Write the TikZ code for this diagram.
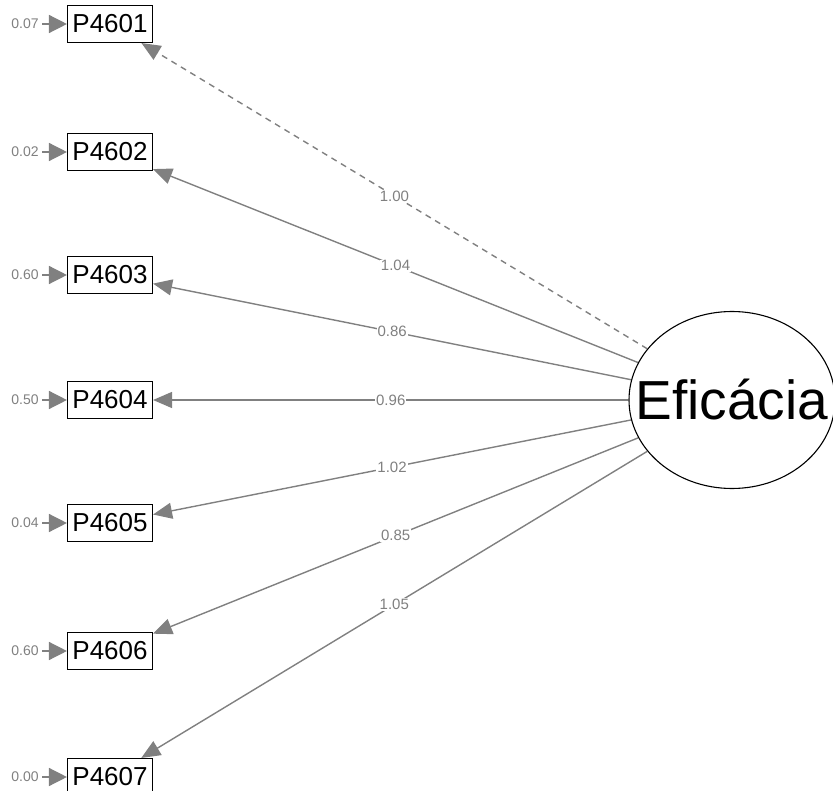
\documentclass[tikz,border=0pt]{standalone}
\usepackage{fontspec}
\setmainfont{Liberation Sans}
\usetikzlibrary{arrows.meta,shapes.geometric,backgrounds}
\definecolor{edgegrey}{RGB}{128,128,128}
\tikzset{
  manifest/.style={draw=black, line width=1.1pt, fill=white, minimum width=85pt,
    minimum height=37pt, inner sep=0pt, font=\fontsize{26}{30}\selectfont},
  latent/.style={ellipse, draw=black, line width=1.1pt, fill=white, minimum width=206pt,
    minimum height=177pt, inner sep=0pt, font=\fontsize{55}{60}\selectfont},
  loading/.style={draw=edgegrey, line width=1.4pt, -{Triangle[length=19pt,width=16pt]}},
  fixedload/.style={loading, dash pattern=on 6pt off 5pt},
  coef/.style={fill=white, text=edgegrey, inner sep=1pt, font=\fontsize{15}{17}\selectfont},
  resid/.style={draw=edgegrey, line width=1.4pt, -{Triangle[length=18pt,width=18pt]}},
  residtext/.style={text=edgegrey, inner sep=0pt, font=\fontsize{14}{16}\selectfont}
}
\begin{document}
\begin{tikzpicture}[x=1pt,y=-1pt]
\useasboundingbox (0,0) rectangle (833,791);

% latent factor
\node[latent] (eff) at (732,400) {\makebox[0pt][c]{Efic\'acia}};

% indicators
\node[manifest] (p1) at (110,24) {P4601};
\node[manifest] (p2) at (110,152) {P4602};
\node[manifest] (p3) at (110,275) {P4603};
\node[manifest] (p4) at (110,400) {P4604};
\node[manifest] (p5) at (110,523) {P4605};
\node[manifest] (p6) at (110,651) {P4606};
\node[manifest] (p7) at (110,777) {P4607};

% residual variances
\foreach \i/\y/\v in {1/24/0.07, 2/152/0.02, 3/275/0.60, 4/400/0.50,
                      5/523/0.04, 6/651/0.60, 7/777/0.00} {
  \coordinate (r\i) at (42,\y);
  \node[residtext] (rv\i) at (25,\y) {\v};
}

\begin{scope}[on background layer]
  \foreach \i in {1,...,7} { \draw[resid] (r\i) -- (p\i); }
  \draw[fixedload] (eff) -- (p1) node[coef, midway] (l1) {1.00};
  \draw[loading] (eff) -- (p2) node[coef, midway] (l2) {1.04};
  \draw[loading] (eff) -- (p3) node[coef, midway] (l3) {0.86};
  \draw[loading] (eff) -- (p4) node[coef, midway] (l4) {0.96};
  \draw[loading] (eff) -- (p5) node[coef, midway] (l5) {1.02};
  \draw[loading] (eff) -- (p6) node[coef, midway] (l6) {0.85};
  \draw[loading] (eff) -- (p7) node[coef, midway] (l7) {1.05};
\end{scope}
\end{tikzpicture}
\end{document}
